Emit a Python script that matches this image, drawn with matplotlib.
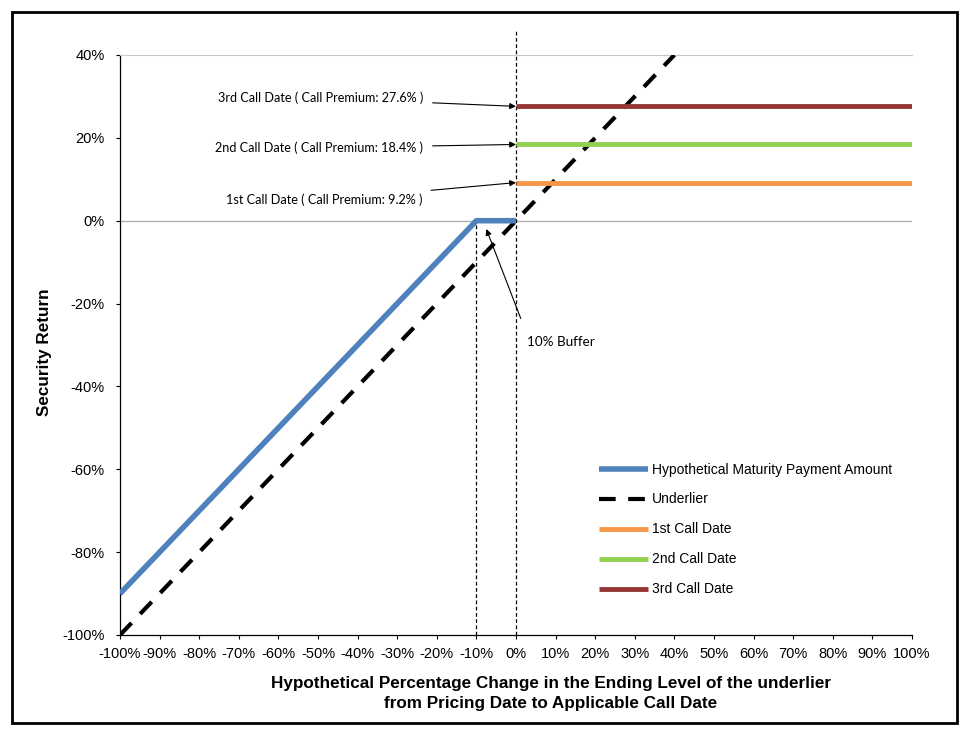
import matplotlib
matplotlib.use('Agg')
import matplotlib.pyplot as plt
import numpy as np

plt.rcParams['font.family'] = ['Liberation Sans', 'DejaVu Sans']

# data (percent)
pay_x = [-100, -10, 0]
pay_y = [-90, 0, 0]
und_x = [-100, 40]
und_y = [-100, 40]
call_names = ['1st Call Date', '2nd Call Date', '3rd Call Date']
call_premiums = [9.2, 18.4, 27.6]
call_colors = ['#F79646', '#92D050', '#953735']
call_x = [0, 100]
buffer_level = -10

fig = plt.figure(figsize=(9.71, 7.46), dpi=100)
ax = fig.add_axes([0.1236, 0.1488, 0.8156, 0.7775])

# outer frame
fig.patches.append(plt.Rectangle((0.0124, 0.0308), 0.9732, 0.9531, transform=fig.transFigure,
                                 fill=False, edgecolor='black', linewidth=2))

ax.axhline(0, color='#b0b0b0', linewidth=1, zorder=1)
ax.plot(pay_x, pay_y, color='#4F81BD', linewidth=4, solid_capstyle='butt', zorder=4,
        label='Hypothetical Maturity Payment Amount')
ax.plot(und_x, und_y, color='black', linewidth=3, dashes=(4, 3), zorder=3, label='Underlier')
for name, p, c in zip(call_names, call_premiums, call_colors):
    ax.plot(call_x, [p, p], color=c, linewidth=3.5, solid_capstyle='butt', zorder=4, label=name)

# vertical dashed guides
ax.plot([buffer_level, buffer_level], [-100, 0], color='black', linewidth=0.9,
        dashes=(3, 2), zorder=2)
ax.plot([0, 0], [-100, 46], color='black', linewidth=0.9, dashes=(3, 2), zorder=2, clip_on=False)

ax.set_xlim(-100, 100)
ax.set_ylim(-100, 40)
ax.set_xticks(np.arange(-100, 101, 10))
ax.set_xticklabels([f'{v}%' for v in range(-100, 101, 10)], fontsize=10.5)
ax.set_yticks(np.arange(-100, 41, 20))
ax.set_yticklabels([f'{v}%' for v in range(-100, 41, 20)], fontsize=10.5)
ax.tick_params(direction='out', length=3, width=0.8)
ax.tick_params(axis='y', pad=8)
ax.tick_params(axis='x', pad=6)

ax.spines['top'].set_color('#c8c8c8')
ax.spines['right'].set_visible(False)
ax.spines['left'].set_linewidth(0.9)
ax.spines['bottom'].set_linewidth(0.9)

ax.set_ylabel('Security Return', fontsize=12.3, fontweight='bold')
ax.yaxis.set_label_coords(-0.0858, 0.488)
ax.set_xlabel('Hypothetical Percentage Change in the Ending Level of the underlier\n'
              'from Pricing Date to Applicable Call Date', fontsize=12.3, fontweight='bold',
              linespacing=1.45)
ax.xaxis.set_label_coords(0.544, -0.0705)

# annotations
ann_font = ['Lato', 'DejaVu Sans']
ord_labels = ['1st', '2nd', '3rd']
for o, p, ty in zip(ord_labels, call_premiums, [5.0, 17.6, 29.6]):
    ax.annotate(f'{o} Call Date ( Call Premium: {p}% )', xy=(0, p), xytext=(-23.5, ty),
                ha='right', va='center', fontsize=9.1, family=ann_font,
                arrowprops=dict(arrowstyle='-|>', color='black', lw=0.8,
                                mutation_scale=9, shrinkA=5, shrinkB=0))

ax.text(2.8, -29.2, '10% Buffer', ha='left', va='center', fontsize=9.7, family=ann_font)
ax.annotate('', xy=(-7.5, -2), xytext=(1.2, -23.6),
            arrowprops=dict(arrowstyle='-|>', color='black', lw=0.8, mutation_scale=9,
                            shrinkA=0, shrinkB=0))

ax.legend(loc='lower right', bbox_to_anchor=(0.991, 0.045), frameon=False, fontsize=10,
          handlelength=3.5, handletextpad=0.3, labelspacing=1.15)

fig.savefig('out.png', dpi=100, facecolor='white')
